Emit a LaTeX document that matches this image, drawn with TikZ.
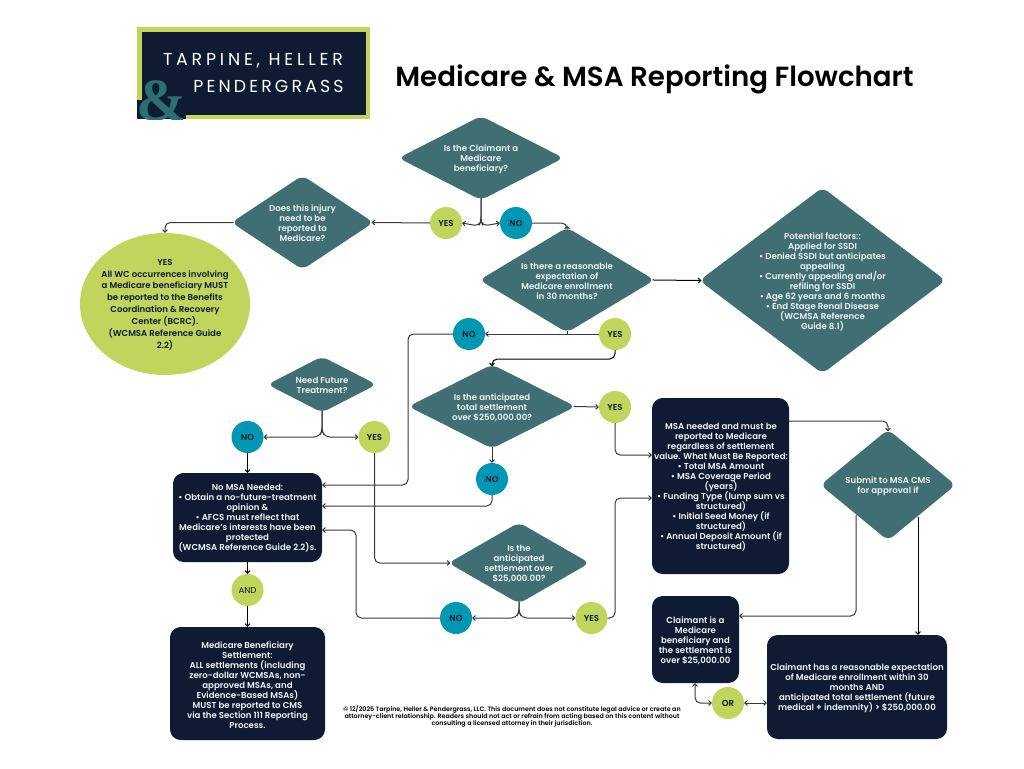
\documentclass[tikz,border=0pt]{standalone}
\usepackage{fontspec}
\setmainfont{Poppins}[BoldFont={Poppins SemiBold}]
\newfontfamily\titlefont{Poppins}[UprightFont={* SemiBold}]
\newfontfamily\ampfont{Liberation Serif}[BoldFont={* Bold}]
\usetikzlibrary{shapes.geometric,arrows.meta}
\definecolor{teal1}{HTML}{3F6E73}
\definecolor{navy1}{HTML}{0F1A33}
\definecolor{lime1}{HTML}{C1D45C}
\definecolor{blue1}{HTML}{0097B2}
\definecolor{line1}{HTML}{3A3A3A}
\definecolor{ampteal}{HTML}{2A7070}
\definecolor{soft}{HTML}{F2F4F4}
\lineskiplimit=-50pt
\newcommand{\tf}{\fontsize{6.45}{7.5}\selectfont\bfseries}
\newcommand{\ef}{\fontsize{6.45}{8.9}\selectfont\bfseries}
\newcommand{\ff}{\fontsize{4.75}{5}\selectfont\bfseries}
\newcommand{\af}{\fontsize{6.45}{7.5}\selectfont}
\tikzset{
  x=0.75pt,y=-0.75pt,
  dia/.style={shape=diamond,fill=teal1,rounded corners=5pt,inner sep=0pt,outer sep=0pt},
  dtext/.style={text=soft,align=center,font=\tf,inner sep=0pt},
  dbox/.style={fill=navy1,rounded corners=8pt,inner sep=0pt,outer sep=0pt},
  yescirc/.style={circle,fill=lime1,minimum size=24pt,inner sep=0pt,outer sep=0pt,font=\tf,text=navy1},
  nocirc/.style={circle,fill=blue1,minimum size=24pt,inner sep=0pt,outer sep=0pt,font=\tf,text=navy1},
  conn/.style={draw=line1,line width=0.75pt,rounded corners=3.5pt,-{Straight Barb[length=2pt,width=3.6pt]}},
  conn2/.style={conn,{Straight Barb[length=2pt,width=3.6pt]}-{Straight Barb[length=2pt,width=3.6pt]}},
  tod/.style={shorten >=-1.5pt},
  fromd/.style={shorten <=-1.5pt},
}
\newcommand{\dnode}[6]{% name cx cy W H text
  \node[dia,minimum width={(#4+5)*0.75pt},minimum height={(#5+5)*0.75pt}] (#1) at (#2,#3) {};
  \node[dtext] (#1t) at (#2,#3+1) {#6};
}
\newcommand{\bnode}[8]{% name x1 y1 x2 y2 tx ty text
  \node[dbox,minimum width={(#4-#2)*0.75pt},minimum height={(#5-#3)*0.75pt}] (#1) at ({(#2+#4)/2},{(#3+#5)/2}) {};
  \node[dtext] (#1t) at (#6,#7) {#8};
}
\begin{document}
\begin{tikzpicture}
\useasboundingbox (0,0) rectangle (1024,768);
\fill[white] (0,0) rectangle (1024,768);
% logo
\node[fill=lime1,minimum width={233*0.75pt},minimum height={92*0.75pt},inner sep=0pt,outer sep=0pt] (logoout) at (253.5,73) {};
\node[fill=navy1,minimum width={224*0.75pt},minimum height={83*0.75pt},inner sep=0pt,outer sep=0pt] (logoin) at (254,73.5) {};
\begin{scope}
\clip (137,70) rectangle (190,119);
\fill[navy1] (137,100) rectangle (186,119);
\node[text=ampteal,inner sep=0pt] (amp) at (161,100.5) {\fontsize{45}{45}\ampfont\bfseries\&};
\end{scope}
\node[text=white,inner sep=0pt] (logo1) at (253,60.5) {\fontsize{13}{15}\selectfont\addfontfeature{LetterSpace=22}TARPINE, HELLER};
\node[text=white,inner sep=0pt] (logo2) at (268.5,86) {\fontsize{13}{15}\selectfont\addfontfeature{LetterSpace=18}PENDERGRASS};
% title
\node[text=black,inner sep=0pt] (title) at (654.5,79) {\fontsize{20.75}{24}\titlefont Medicare \& MSA Reporting Flowchart};
% diamonds
\dnode{d1}{481}{158}{160}{79}{Is the Claimant a\\Medicare\\beneficiary?}
\dnode{d2}{302.5}{222.5}{137}{89}{Does this injury\\need to be\\reported to\\Medicare?}
\dnode{d3}{567}{280}{170}{100}{Is there a reasonable\\expectation of\\Medicare enrollment\\in 30 months?}
\dnode{d4}{322}{384.5}{104}{51}{Need Future\\Treatment?}
\dnode{d5}{492}{406.5}{162}{79}{Is the anticipated\\total settlement\\over \$250,000.00?}
\dnode{d6}{519}{563}{136}{76}{Is the\\anticipated\\settlement over\\\$25,000.00?}
\dnode{d7}{888}{485}{130}{106}{Submit to MSA CMS\\for approval if}
\dnode{d8}{822.5}{280.5}{241}{181}{Potential factors::\\Applied for SSDI\\• Denied SSDI but anticipates\\appealing\\• Currently appealing and/or\\refiling for SSDI\\• Age 62 years and 6 months\\• End Stage Renal Disease\\(WCMSA Reference\\Guide 8.1)}
% ellipse
\node[ellipse,fill=lime1,minimum width={170*0.75pt},minimum height={142*0.75pt},inner sep=0pt,outer sep=0pt] (ell) at (165,304) {};
\node[text=navy1,align=center,inner sep=0pt,font=\ef] (ellt) at (165,304.5) {YES\\All WC occurrences involving\\a Medicare beneficiary MUST\\be reported to the Benefits\\Coordination \& Recovery\\Center (BCRC).\\(WCMSA Reference Guide\\2.2)};
% boxes
\bnode{b1}{173}{473}{322}{562}{247.5}{518}{No MSA Needed:\\• Obtain a no-future-treatment\\opinion \&\\• AFCS must reflect that\\Medicare's interests have been\\protected\\(WCMSA Reference Guide 2.2)s.}
\bnode{b2}{170}{627}{325}{740}{247.5}{685}{Medicare Beneficiary\\Settlement:\\ALL settlements (including\\zero-dollar WCMSAs, non-\\approved MSAs, and\\Evidence-Based MSAs)\\MUST be reported to CMS\\via the Section 111 Reporting\\Process.}
\bnode{b3}{652}{398}{789}{574}{721}{487}{MSA needed and must be\\reported to Medicare\\regardless of settlement\\value. What Must Be Reported:\\• Total MSA Amount\\• MSA Coverage Period\\(years)\\• Funding Type (lump sum vs\\structured)\\• Initial Seed Money (if\\structured)\\• Annual Deposit Amount (if\\structured)}
\bnode{b4}{652}{596}{739}{683}{695.5}{641}{Claimant is a\\Medicare\\beneficiary and\\the settlement is\\over \$25,000.00}
\bnode{b5}{767}{635}{947}{739}{857}{688}{Claimant has a reasonable expectation\\of Medicare enrollment within 30\\months AND\\anticipated total settlement (future\\medical + indemnity) > \$250,000.00}
% circles
\node[yescirc] (y1) at (446,223) {YES};
\node[nocirc] (n1) at (516,223) {NO};
\node[yescirc] (y2) at (615,334) {YES};
\node[nocirc] (n2) at (469,334) {NO};
\node[yescirc] (y3) at (615,407) {YES};
\node[nocirc] (n3) at (492,479) {NO};
\node[yescirc] (y4) at (374.5,437) {YES};
\node[nocirc] (n4) at (247.5,437) {NO};
\node[yescirc] (y5) at (591.5,618) {YES};
\node[nocirc] (n5) at (456,618) {NO};
\node[yescirc,font=\af] (and) at (247.5,590) {AND};
\node[yescirc] (or) at (728,703) {OR};
% footer
\node[text=black,align=center,inner sep=0pt,font=\ff] (foot) at (512,716.5) {© 12/2025 Tarpine, Heller \& Pendergrass, LLC. This document does not constitute legal advice or create an\\attorney-client relationship. Readers should not act or refrain from acting based on this content without\\consulting a licensed attorney in their jurisdiction.};
% connector points
\coordinate (b1a) at (322,485);
\coordinate (b1b) at (322,506);
\coordinate (b1c) at (322,530);
\coordinate (b3a) at (652,455);
\coordinate (b3b) at (652,498);
\coordinate (b3c) at (789,421);
\coordinate (b4a) at (739,616);
\coordinate (b4b) at (695,683);
\coordinate (b5a) at (767,703);
\coordinate (b5b) at (918,635);
\coordinate (d7a) at (856,515);
\coordinate (d7b) at (918,517);
% connectors
\draw[conn,fromd] (d1.south) -- ++(0,21) -- ++(-2,5) -- (y1.east);
\draw[conn,fromd] (d1.south) -- ++(0,21) -- ++(2,5) -- (n1.west);
\draw[conn,tod] (y1.west) -- (d2.east);
\draw[conn,tod,rounded corners=4pt] (n1.east) -- (d3.north |- n1.east) -- (d3.north);
\draw[conn,fromd,rounded corners=4pt] (d2.west) -- (ell.north |- d2.west) -- (ell.north);
\draw[conn,fromd,tod,draw=black] (d3.east) -- (d8.west);
\draw[conn] (y2.west) -- (n2.east);
\draw[draw=line1,line width=0.75pt,fromd] (d3.south) -- (d3.south |- y2.west);
\draw[conn,rounded corners=4pt] (n2.west) -- (408,334) -- (408,485) -- (b1a);
\draw[conn,tod,draw=black,rounded corners=4pt] (y2.south) -- (615,359) -- (492,359) -- (d5.north);
\draw[conn,fromd] (d5.east) -- (y3.west);
\draw[conn,fromd] (d5.south) -- (n3.north);
\draw[conn,rounded corners=4pt] (n3.south) -- (492,506) -- (b1b);
\draw[conn,fromd] (d4.south) -- (322,431) -- (319,437) -- (n4.east);
\draw[conn,fromd] (d4.south) -- (322,431) -- (325,437) -- (y4.west);
\draw[conn,draw=black] (n4.south) -- (b1.north -| n4.south);
\draw[conn,tod,rounded corners=4pt] (y4.south) -- (374.5,563) -- (d6.west);
\draw[conn,fromd] (d6.south) -- (519,612) -- (516,618) -- (n5.east);
\draw[conn,fromd] (d6.south) -- (519,612) -- (522,618) -- (y5.west);
\draw[conn,rounded corners=4pt] (n5.west) -- (356,618) -- (356,530) -- (b1c);
\draw[conn,rounded corners=4pt] (y5.east) -- (615,618) -- (615,498) -- (b3b);
\draw[conn,rounded corners=4pt] (y3.south) -- (615,455) -- (b3a);
\draw[conn,draw=black] (b1.south -| and.north) -- (and.north);
\draw[conn,draw=black] (and.south) -- (b2.north -| and.south);
\draw[conn,tod,rounded corners=4pt] (b3c) -- (888,421) -- (d7.north);
\draw[conn,rounded corners=4pt] (d7a) -- (856,616) -- (b4a);
\draw[conn,draw=black] (d7b) -- (b5b);
\draw[conn2,rounded corners=4pt] (or.west) -- (695,703) -- (b4b);
\draw[conn2] (or.east) -- (b5a);
\end{tikzpicture}
\end{document}
